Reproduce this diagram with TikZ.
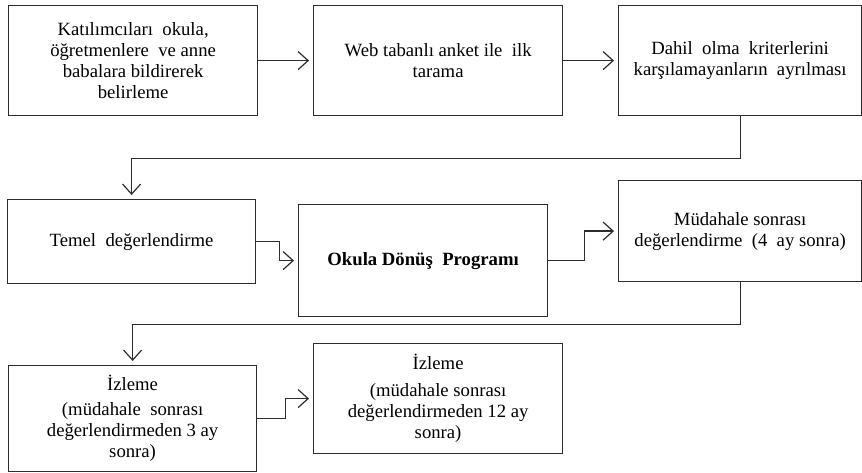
\documentclass[tikz,border=0pt]{standalone}
\usepackage{fontspec}
\setmainfont{Liberation Serif}
\usetikzlibrary{arrows.meta}
\definecolor{boxline}{RGB}{45,45,45}
\tikzset{
    % Box styles
    stage box/.style={
        draw=boxline,
        line width=1.2pt,
        rectangle,
        anchor=north west,
        align=center,
        inner sep=0pt,
        font=\fontsize{18.7}{21}\selectfont
    },
    % Arrow styles
    flow arrow/.style={
        -{Straight Barb[length=10pt,width=18pt]},
        line width=1.2pt,
        boxline,
        shorten >=4pt
    }
}

\begin{document}
\begin{tikzpicture}[x=1pt,y=-1pt]
    \useasboundingbox (0,0) rectangle (862,473);
    % first row
    \node[stage box, minimum width=249pt, minimum height=110pt] (identify) at (8,5)
        {Katılımcıları\ \ okula,\\öğretmenlere\ \ ve anne\\babalara bildirerek\\belirleme};
    \node[stage box, minimum width=249pt, minimum height=110pt] (screening) at (313,5)
        {Web tabanlı anket ile\ \ ilk\\tarama};
    \node[stage box, minimum width=243pt, minimum height=110pt] (exclusion) at (618,5)
        {Dahil\ \ olma\ \ kriterlerini\\karşılamayanların\ \ ayrılması};
    % second row
    \node[stage box, minimum width=248pt, minimum height=84pt] (baseline) at (7,199)
        {Temel\ \ değerlendirme};
    \node[stage box, minimum width=249pt, minimum height=112pt] (program) at (298,204)
        {\bfseries Okula Dönüş\ \ Programı};
    \node[stage box, minimum width=243pt, minimum height=101pt] (post) at (618,180)
        {Müdahale sonrası\\değerlendirme\ \ (4\ \ ay sonra)};
    % third row
    \node[stage box, minimum width=248pt, minimum height=106pt] (follow3) at (8,365)
        {İzleme\\[4pt](müdahale\ \ sonrası\\değerlendirmeden 3 ay\\sonra)};
    \node[stage box, minimum width=249pt, minimum height=110pt] (follow12) at (313,343)
        {İzleme\\[6pt](müdahale sonrası\\değerlendirmeden 12 ay\\sonra)};
    % connectors
    \draw[flow arrow] (identify) -- (screening);
    \draw[flow arrow] (screening) -- (exclusion);
    \draw[flow arrow] (exclusion.south) -- ++(0,42) -| (baseline.north);
    \draw[flow arrow] (baseline.east) -- ++(23,0) |- (program.west);
    \draw[flow arrow] (program.east) -- ++(36,0) |- (post.west);
    \draw[flow arrow] (post.south) -- ++(0,42) -| (follow3.north);
    \draw[flow arrow] (follow3.east) -- ++(28,0) |- (follow12.west);
\end{tikzpicture}
\end{document}
